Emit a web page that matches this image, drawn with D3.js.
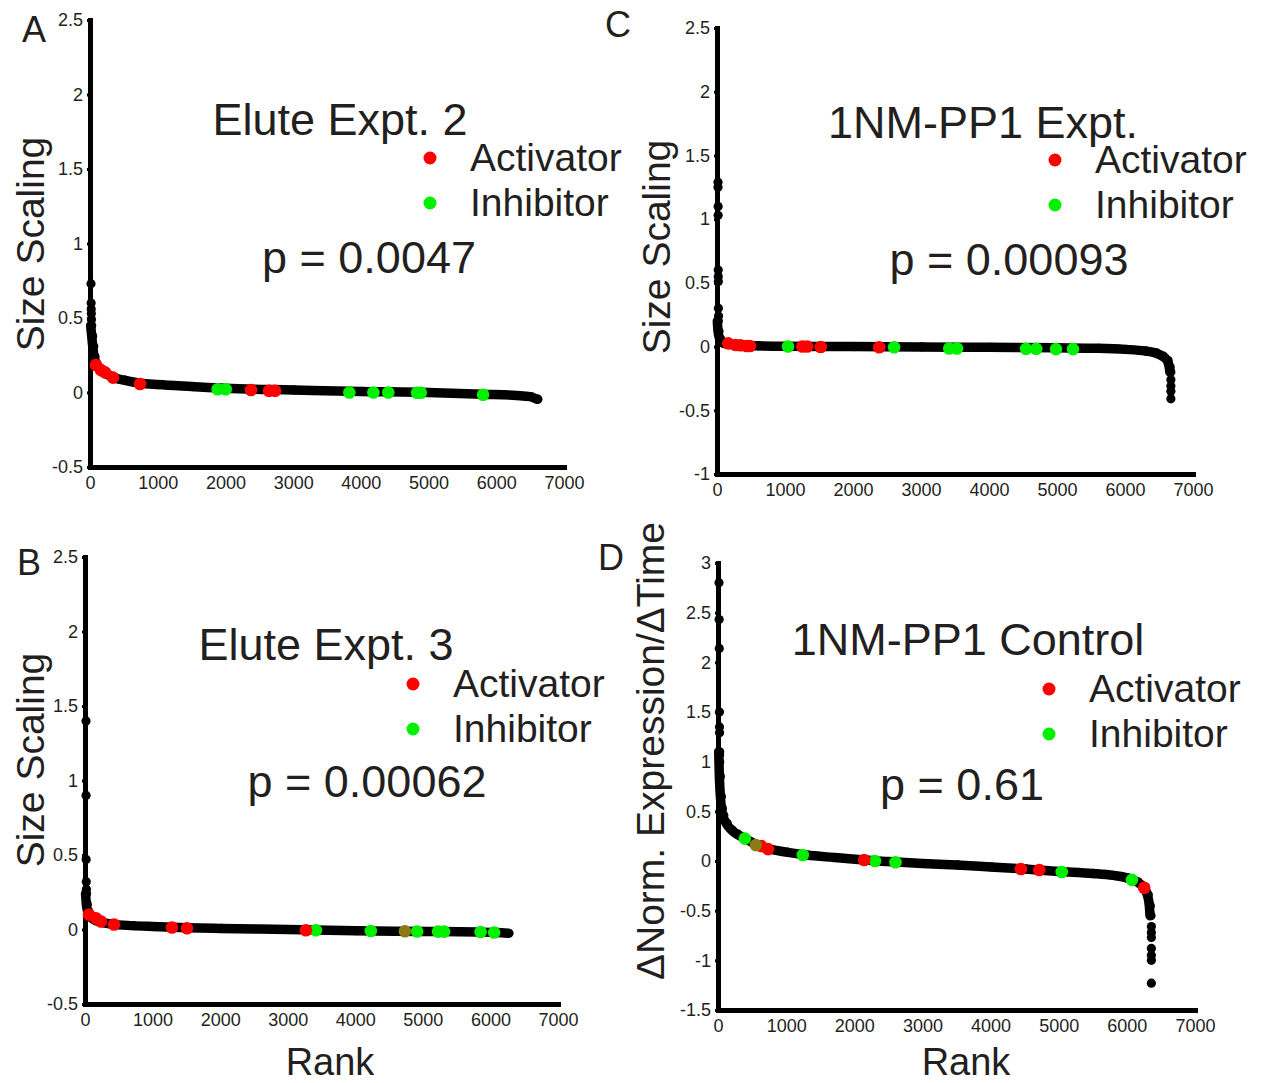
<!DOCTYPE html>
<html>
<head>
<meta charset="utf-8">
<script src="https://cdn.jsdelivr.net/npm/d3@7"></script>
<style>
  body { margin: 0; background: #fff; }
  text { font-family: "Liberation Sans", Arial, Helvetica, sans-serif; fill: #231f20; }
</style>
</head>
<body>
<svg id="fig" width="1265" height="1083"></svg>
<script>
// ---- data (rank, value) ----
var rankTicks = [0, 1000, 2000, 3000, 4000, 5000, 6000, 7000];
var sizeTicks = [-0.5, 0, 0.5, 1, 1.5, 2, 2.5];
var sizeTicksC = [-1, -0.5, 0, 0.5, 1, 1.5, 2, 2.5];
var exprTicks = [-1.5, -1, -0.5, 0, 0.5, 1, 1.5, 2, 2.5, 3];

// A: Elute Expt. 2
var curveA = [[10, 0.45], [25, 0.38], [40, 0.31], [60, 0.24], [80, 0.2], [120, 0.165], [180, 0.14], [260, 0.12],
    [350, 0.1], [500, 0.083], [750, 0.062], [1000, 0.053], [1500, 0.04], [2000, 0.028], [3000, 0.017],
    [4000, 0.007], [5000, 0.0], [5800, -0.012], [6300, -0.02], [6500, -0.028], [6600, -0.045]];
var outliersA = [[0, 0.73], [2, 0.6], [3, 0.56], [5, 0.53], [7, 0.49]];
var activatorsA = [[74, 0.185], [148, 0.15], [207, 0.135], [325, 0.1], [724, 0.057], [2363, 0.017], [2629, 0.012], [2718, 0.012]];
var inhibitorsA = [[1870, 0.022], [1990, 0.022], [3815, 0.0], [4170, 0.0], [4390, 0.0], [4815, -0.002], [4870, -0.002], [5790, -0.015]];

// B: Elute Expt. 3
var curveB = [[8, 0.24], [20, 0.17], [40, 0.12], [70, 0.09], [120, 0.07], [220, 0.05], [400, 0.036], [700, 0.026],
    [1000, 0.02], [1500, 0.012], [2000, 0.007], [3000, 0.0], [4000, -0.008], [5000, -0.013], [5800, -0.017],
    [6100, -0.02], [6260, -0.025]];
var outliersB = [[0, 1.4], [1, 0.9], [2, 0.47], [4, 0.32], [6, 0.27]];
var activatorsB = [[44, 0.1], [148, 0.075], [222, 0.054], [414, 0.034], [1272, 0.013], [1494, 0.008], [3254, -0.005]];
var inhibitorsB = [[3402, -0.005], [4215, -0.01], [4900, -0.013], [5210, -0.014], [5300, -0.014], [5840, -0.017], [6040, -0.02]];
var mixedB = [[4720, -0.012]];

// C: 1NM-PP1 Expt.
var curveC = [[5, 0.2], [15, 0.12], [40, 0.06], [80, 0.03], [150, 0.02], [300, 0.012], [600, 0.006], [1000, 0.002],
    [2000, 0.0], [3000, -0.003], [4000, -0.006], [5000, -0.01], [5600, -0.014], [6000, -0.022], [6300, -0.035],
    [6450, -0.05], [6550, -0.075], [6620, -0.11], [6650, -0.16], [6660, -0.2]];
var outliersC = [[0, 1.29], [0, 1.25], [2, 1.1], [2, 1.03], [3, 0.6], [4, 0.55], [5, 0.51], [6, 0.3], [8, 0.24],
    [6660, -0.26], [6660, -0.31], [6660, -0.35], [6660, -0.41]];
var activatorsC = [[150, 0.025], [260, 0.012], [330, 0.01], [420, 0.005], [470, 0.005], [1240, 0.0], [1310, 0.0], [1510, -0.003], [2370, -0.005]];
var inhibitorsC = [[1030, 0.0], [2590, -0.005], [3400, -0.015], [3515, -0.015], [4530, -0.018], [4680, -0.018], [4970, -0.02], [5220, -0.02]];

// D: 1NM-PP1 Control
var curveD = [[10, 1.1], [20, 0.85], [35, 0.65], [50, 0.53], [70, 0.46], [120, 0.38], [200, 0.31], [280, 0.27],
    [400, 0.225], [550, 0.17], [700, 0.13], [1000, 0.09], [1300, 0.06], [1700, 0.035], [2100, 0.012], [2500, -0.006],
    [3000, -0.025], [3500, -0.04], [4000, -0.06], [4500, -0.08], [5000, -0.105], [5500, -0.125], [5800, -0.145],
    [6000, -0.17], [6150, -0.21], [6250, -0.27], [6300, -0.34], [6330, -0.45], [6340, -0.55]];
var outliersD = [[0, 2.8], [2, 2.43], [4, 2.14], [6, 1.5], [7, 1.35], [8, 1.29], [9, 1.07], [10, 1.0],
    [6345, -0.66], [6345, -0.72], [6345, -0.77], [6345, -0.88], [6345, -0.95], [6345, -1.0], [6345, -1.23]];
var activatorsD = [[620, 0.15], [720, 0.12], [2130, 0.01], [4430, -0.08], [4700, -0.09], [6240, -0.27]];
var inhibitorsD = [[380, 0.225], [1230, 0.06], [2290, 0.0], [2590, -0.012], [5030, -0.11], [6060, -0.19]];
var mixedD = [[540, 0.16]];

var panels = [
    { letter: 'A', lx: 22, ly: 42, x0: 90, x1: 564, yTop: 20, yBot: 467, domain: [-0.5, 2.5], ticks: sizeTicks,
      curve: curveA, outliers: outliersA, act: activatorsA, inh: inhibitorsA, mixed: [],
      title: 'Elute Expt. 2', tx: 340, ty: 135, legX: 430, legY: 158, p: 'p = 0.0047', px: 369, py: 273,
      ylab: 'Size Scaling', ylx: 44, yly: 244, xlab: null },
    { letter: 'B', lx: 17, ly: 575, x0: 85, x1: 558, yTop: 557, yBot: 1004, domain: [-0.5, 2.5], ticks: sizeTicks,
      curve: curveB, outliers: outliersB, act: activatorsB, inh: inhibitorsB, mixed: mixedB,
      title: 'Elute Expt. 3', tx: 326, ty: 660, legX: 413, legY: 684, p: 'p = 0.00062', px: 367, py: 797,
      ylab: 'Size Scaling', ylx: 44, yly: 760, xlab: 'Rank', xlx: 330, xly: 1075 },
    { letter: 'C', lx: 605, ly: 37, x0: 717, x1: 1193, yTop: 28, yBot: 474, domain: [-1, 2.5], ticks: sizeTicksC,
      curve: curveC, outliers: outliersC, act: activatorsC, inh: inhibitorsC, mixed: [],
      title: '1NM-PP1 Expt.', tx: 983, ty: 138, legX: 1055, legY: 160, p: 'p = 0.00093', px: 1009, py: 275,
      ylab: 'Size Scaling', ylx: 670, yly: 247, xlab: null },
    { letter: 'D', lx: 598, ly: 570, x0: 718, x1: 1195, yTop: 563, yBot: 1010, domain: [-1.5, 3], ticks: exprTicks,
      curve: curveD, outliers: outliersD, act: activatorsD, inh: inhibitorsD, mixed: mixedD,
      title: '1NM-PP1 Control', tx: 968, ty: 655, legX: 1049, legY: 689, p: 'p = 0.61', px: 962, py: 800,
      ylab: '\u0394Norm. Expression/\u0394Time', ylx: 664, yly: 751, xlab: 'Rank', xlx: 966, xly: 1075 }
];

var svg = d3.select('#fig');
var red = '#ff0000', green = '#00f000', olive = '#8c7a14';
var fmt = function(d) { return String(d); };

panels.forEach(function(p) {
    var x = d3.scaleLinear().domain([0, 7000]).range([p.x0, p.x1]);
    var y = d3.scaleLinear().domain(p.domain).range([p.yBot, p.yTop]);
    var g = svg.append('g');

    // axes
    var yAxis = d3.axisLeft(y).tickValues(p.ticks).tickFormat(fmt).tickSize(3).tickSizeOuter(0).tickPadding(4);
    var xAxis = d3.axisBottom(x).tickValues(rankTicks).tickFormat(fmt).tickSize(3).tickSizeOuter(0).tickPadding(6);

    var ya = g.append('g').attr('transform', 'translate(' + p.x0 + ',0)').call(yAxis);
    var xa = g.append('g').attr('transform', 'translate(0,' + p.yBot + ')').call(xAxis);
    [ya, xa].forEach(function(a) {
        a.select('.domain').attr('stroke', '#000').attr('stroke-width', 5).attr('stroke-linecap', 'square');
        a.selectAll('.tick line').attr('stroke', '#000').attr('stroke-width', 3);
        a.selectAll('.tick text').attr('font-size', 18).attr('fill', '#111')
            .attr('font-family', '"Liberation Sans", Arial, sans-serif');
    });

    // ranked values: dense band + isolated points
    var line = d3.line()
        .x(function(d) { return x(d[0]); })
        .y(function(d) { return y(d[1]); })
        .curve(d3.curveMonotoneX);

    g.append('path')
        .datum(p.curve)
        .attr('d', line)
        .attr('fill', 'none')
        .attr('stroke', '#000')
        .attr('stroke-width', 9.5)
        .attr('stroke-linecap', 'round')
        .attr('stroke-linejoin', 'round');

    g.selectAll('.dot')
        .data(p.outliers.concat(p.curve))
        .enter().append('circle')
        .attr('cx', function(d) { return x(d[0]) + 1; })
        .attr('cy', function(d) { return y(d[1]); })
        .attr('r', 4.6)
        .attr('fill', '#000');

    function marks(data, color) {
        g.selectAll(null)
            .data(data)
            .enter().append('circle')
            .attr('cx', function(d) { return x(d[0]) + 1; })
            .attr('cy', function(d) { return y(d[1]); })
            .attr('r', 6.3)
            .attr('fill', color);
    }
    marks(p.inh, green);
    marks(p.act, red);
    marks(p.mixed, olive);

    // texts
    g.append('text').attr('x', p.lx).attr('y', p.ly).attr('font-size', 36).text(p.letter);
    g.append('text').attr('x', p.tx).attr('y', p.ty).attr('font-size', 45)
        .attr('text-anchor', 'middle').text(p.title);
    g.append('circle').attr('cx', p.legX).attr('cy', p.legY).attr('r', 6.5).attr('fill', red);
    g.append('circle').attr('cx', p.legX).attr('cy', p.legY + 45).attr('r', 6.5).attr('fill', green);
    g.append('text').attr('x', p.legX + 40).attr('y', p.legY + 13).attr('font-size', 39).text('Activator');
    g.append('text').attr('x', p.legX + 40).attr('y', p.legY + 58).attr('font-size', 39).text('Inhibitor');
    g.append('text').attr('x', p.px).attr('y', p.py).attr('font-size', 45)
        .attr('text-anchor', 'middle').text(p.p);

    g.append('text')
        .attr('transform', 'translate(' + p.ylx + ',' + p.yly + ') rotate(-90)')
        .attr('text-anchor', 'middle')
        .attr('font-size', 39)
        .text(p.ylab);

    if (p.xlab) {
        g.append('text').attr('x', p.xlx).attr('y', p.xly).attr('font-size', 38)
            .attr('text-anchor', 'middle').text(p.xlab);
    }
});
</script>
</body>
</html>
